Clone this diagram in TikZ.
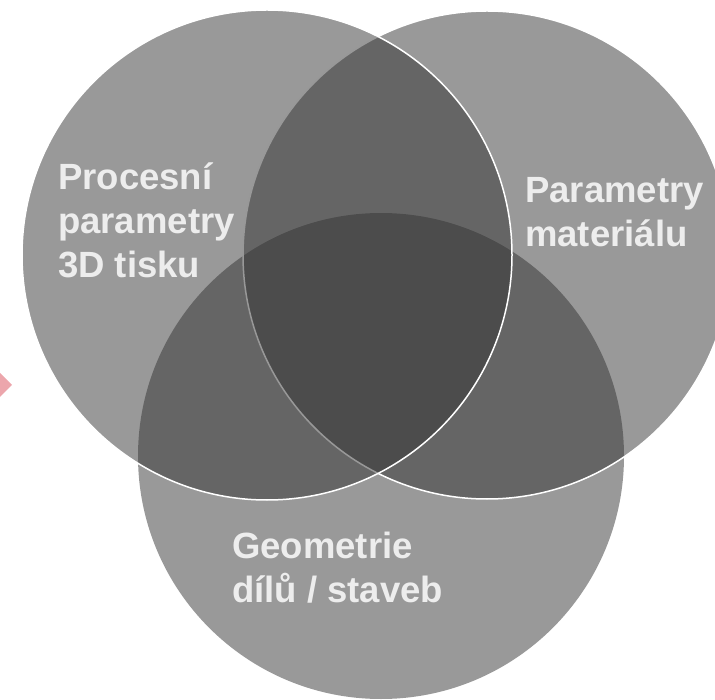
\documentclass[tikz,border=0pt]{standalone}
\usepackage{fontspec}
\setmainfont{Liberation Sans}
\begin{document}
\begin{tikzpicture}[x=1pt,y=-1pt,
  venn/.style={fill=black!80,fill opacity=0.5},
  rim/.style={venn,draw=white,draw opacity=1,line width=1.5pt},
  lbl/.style={inner sep=0pt,align=left,text=white!93!black,
    font=\bfseries\fontsize{36.5}{44}\selectfont},
  tip/.style={fill={rgb,255:red,236;green,166;blue,172},draw=none}]
  \useasboundingbox (0,0) rectangle (715,700);
  % pink marker at the left border
  \fill[tip] (0,373) -- (12,385) -- (0,397) -- cycle;
  \begin{scope}
    \clip (0,0) rectangle (715,700);
    % three overlapping sets, lowest first
    \path[venn] (381,456) circle[radius=243] coordinate (c3);
    \path[rim]  (487,255) circle[radius=244] coordinate (c2);
    \path[rim]  (267,255) circle[radius=245] coordinate (c1);
  \end{scope}
  % labels, anchored at the baseline of their last line
  \node[lbl,anchor=base west] (proc) at (58,278) {Procesní\\parametry\\3D tisku};
  \node[lbl,anchor=base west] (mat) at (525,247) {Parametry\\materiálu};
  \node[lbl,anchor=base west] (geo) at (232,602) {Geometrie\\dílů / staveb};
\end{tikzpicture}
\end{document}
